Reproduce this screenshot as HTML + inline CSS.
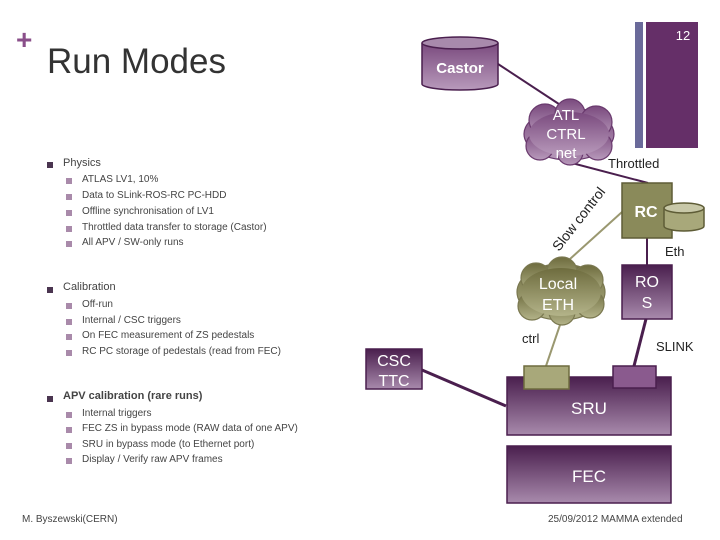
<!DOCTYPE html>
<html><head><meta charset="utf-8"><style>
body{margin:0;width:720px;height:540px;background:#fff;position:relative;overflow:hidden;font-family:"Liberation Sans",sans-serif}
.t{position:absolute;white-space:nowrap;color:#333}
.b1{position:absolute;width:6px;height:6px;background:#4a3550}
.b2{position:absolute;width:6px;height:6px;background:#a98aaa}
.s{font-size:10px;color:#444}
.m{font-size:11px;color:#444}
</style></head><body>
<div class="t" style="left:16px;top:24px;font-size:28px;color:#8a4f8a;font-weight:bold">+</div>
<div class="t" style="left:47px;top:42px;font-size:35px;color:#333">Run Modes</div>
<svg style="position:absolute;left:0;top:0" width="720" height="540">
<defs>
<linearGradient id="pg" x1="0" y1="0" x2="0" y2="1"><stop offset="0" stop-color="#4a1f4e"/><stop offset="1" stop-color="#a88aac"/></linearGradient>
<linearGradient id="cg" x1="0" y1="0" x2="0" y2="1"><stop offset="0" stop-color="#7a4a7e"/><stop offset="1" stop-color="#b89abb"/></linearGradient>
<linearGradient id="gg" x1="0" y1="0" x2="0" y2="1"><stop offset="0" stop-color="#6e6c3e"/><stop offset="1" stop-color="#b3b389"/></linearGradient>
</defs>
<rect x="635" y="22" width="8" height="126" fill="#6a6a9a"/>
<rect x="646" y="22" width="52" height="126" fill="#652f68"/>
<text x="683" y="40" font-size="13" fill="#fff" text-anchor="middle" font-family="Liberation Sans">12</text>
<line x1="498" y1="64" x2="568" y2="110" stroke="#4a1f4e" stroke-width="2"/>
<line x1="568" y1="162" x2="648" y2="183" stroke="#4a1f4e" stroke-width="2"/>
<line x1="622" y1="212" x2="560" y2="268" stroke="#9a9870" stroke-width="2"/>
<line x1="647" y1="238" x2="647" y2="265" stroke="#4a1f4e" stroke-width="2"/>
<line x1="561" y1="322" x2="546" y2="366" stroke="#9a9870" stroke-width="2"/>
<line x1="646" y1="319" x2="634" y2="366" stroke="#4a1f4e" stroke-width="3"/>
<line x1="422" y1="370" x2="506" y2="406" stroke="#4a1f4e" stroke-width="3"/>
<path d="M422 43 V84 A38 6 0 0 0 498 84 V43" fill="url(#cg)" stroke="#4a1f4e" stroke-width="1.5"/>
<ellipse cx="460" cy="43" rx="38" ry="6" fill="#a88aac" stroke="#4a1f4e" stroke-width="1.5"/>
<text x="460" y="73" font-size="15" font-weight="bold" fill="#fff" text-anchor="middle" font-family="Liberation Sans">Castor</text>
<g fill="url(#cg)" stroke="#6a3a6e" stroke-width="1.2">
<ellipse cx="569" cy="134" rx="45" ry="26"/>
<circle cx="545" cy="120" r="16"/><circle cx="570" cy="114" r="15"/><circle cx="596" cy="122" r="16"/>
<circle cx="540" cy="146" r="14"/><circle cx="570" cy="152" r="13"/><circle cx="598" cy="146" r="14"/>
</g>
<ellipse cx="569" cy="134" rx="40" ry="22" fill="url(#cg)"/>
<g font-family="Liberation Sans" font-size="15" fill="#fff" text-anchor="middle">
<text x="566" y="120">ATL</text><text x="566" y="139">CTRL</text><text x="566" y="158">net</text></g>
<rect x="622" y="183" width="50" height="55" fill="#8a8a5a" stroke="#5e5c36" stroke-width="1.5"/>
<text x="646" y="217" font-size="16" font-weight="bold" fill="#fff" text-anchor="middle" font-family="Liberation Sans">RC</text>
<path d="M664 208 V226 A20 5 0 0 0 704 226 V208" fill="#a8a87a" stroke="#5e5c36" stroke-width="1.5"/>
<ellipse cx="684" cy="208" rx="20" ry="5" fill="#c8c8a8" stroke="#5e5c36" stroke-width="1.5"/>
<g fill="url(#gg)" stroke="#7a7850" stroke-width="1.2">
<ellipse cx="561" cy="292" rx="44" ry="28"/>
<circle cx="536" cy="278" r="15"/><circle cx="562" cy="272" r="15"/><circle cx="588" cy="280" r="15"/>
<circle cx="532" cy="306" r="14"/><circle cx="562" cy="312" r="13"/><circle cx="590" cy="304" r="14"/>
</g>
<ellipse cx="561" cy="292" rx="40" ry="24" fill="url(#gg)"/>
<g font-family="Liberation Sans" font-size="16" fill="#fff" text-anchor="middle">
<text x="558" y="289">Local</text><text x="558" y="310">ETH</text></g>
<rect x="622" y="265" width="50" height="54" fill="url(#pg)" stroke="#4a1f4e" stroke-width="1.5"/>
<g font-family="Liberation Sans" font-size="16" fill="#fff" text-anchor="middle"><text x="647" y="287">RO</text><text x="647" y="308">S</text></g>
<rect x="366" y="349" width="56" height="40" fill="url(#pg)" stroke="#4a1f4e" stroke-width="1.5"/>
<g font-family="Liberation Sans" font-size="16" fill="#fff" text-anchor="middle"><text x="394" y="366">CSC</text><text x="394" y="386">TTC</text></g>
<rect x="507" y="377" width="164" height="58" fill="url(#pg)" stroke="#4a1f4e" stroke-width="1.5"/>
<rect x="524" y="366" width="45" height="23" fill="#a8a87a" stroke="#6e6c3e" stroke-width="1.5"/>
<rect x="613" y="366" width="43" height="22" fill="#8a5a8e" stroke="#4a1f4e" stroke-width="1.5"/>
<text x="589" y="414" font-size="17" fill="#fff" text-anchor="middle" font-family="Liberation Sans">SRU</text>
<rect x="507" y="446" width="164" height="57" fill="url(#pg)" stroke="#4a1f4e" stroke-width="1.5"/>
<text x="589" y="482" font-size="17" fill="#fff" text-anchor="middle" font-family="Liberation Sans">FEC</text>
<g font-family="Liberation Sans" font-size="13" fill="#222">
<text x="608" y="168">Throttled</text>
<text x="665" y="256">Eth</text>
<text x="522" y="343">ctrl</text>
<text x="656" y="351">SLINK</text>
<text x="559" y="252" transform="rotate(-52 559 252)" font-size="14">Slow control</text>
</g>
</svg>
<div class="b1" style="left:47px;top:162px"></div><div class="t m" style="left:63px;top:157px">Physics</div>
<div class="b2" style="left:66px;top:178px"></div><div class="t s" style="left:82px;top:174px">ATLAS LV1, 10%</div>
<div class="b2" style="left:66px;top:194px"></div><div class="t s" style="left:82px;top:190px">Data to SLink-ROS-RC PC-HDD</div>
<div class="b2" style="left:66px;top:210px"></div><div class="t s" style="left:82px;top:206px">Offline synchronisation of LV1</div>
<div class="b2" style="left:66px;top:226px"></div><div class="t s" style="left:82px;top:222px">Throttled data transfer to storage (Castor)</div>
<div class="b2" style="left:66px;top:241px"></div><div class="t s" style="left:82px;top:237px">All APV / SW-only runs</div>
<div class="b1" style="left:47px;top:287px"></div><div class="t m" style="left:63px;top:281px">Calibration</div>
<div class="b2" style="left:66px;top:303px"></div><div class="t s" style="left:82px;top:299px">Off-run</div>
<div class="b2" style="left:66px;top:319px"></div><div class="t s" style="left:82px;top:315px">Internal / CSC triggers</div>
<div class="b2" style="left:66px;top:334px"></div><div class="t s" style="left:82px;top:330px">On FEC measurement of ZS pedestals</div>
<div class="b2" style="left:66px;top:350px"></div><div class="t s" style="left:82px;top:346px">RC PC storage of pedestals (read from FEC)</div>
<div class="b1" style="left:47px;top:396px"></div><div class="t m" style="left:63px;top:390px;font-weight:bold">APV calibration (rare runs)</div>
<div class="b2" style="left:66px;top:412px"></div><div class="t s" style="left:82px;top:408px">Internal triggers</div>
<div class="b2" style="left:66px;top:427px"></div><div class="t s" style="left:82px;top:423px">FEC ZS in bypass mode (RAW data of one APV)</div>
<div class="b2" style="left:66px;top:443px"></div><div class="t s" style="left:82px;top:439px">SRU in bypass mode (to Ethernet port)</div>
<div class="b2" style="left:66px;top:458px"></div><div class="t s" style="left:82px;top:454px">Display / Verify raw APV frames</div>
<div class="t s" style="left:22px;top:514px">M. Byszewski(CERN)</div>
<div class="t s" style="left:548px;top:514px">25/09/2012 MAMMA extended</div>
</body></html>
